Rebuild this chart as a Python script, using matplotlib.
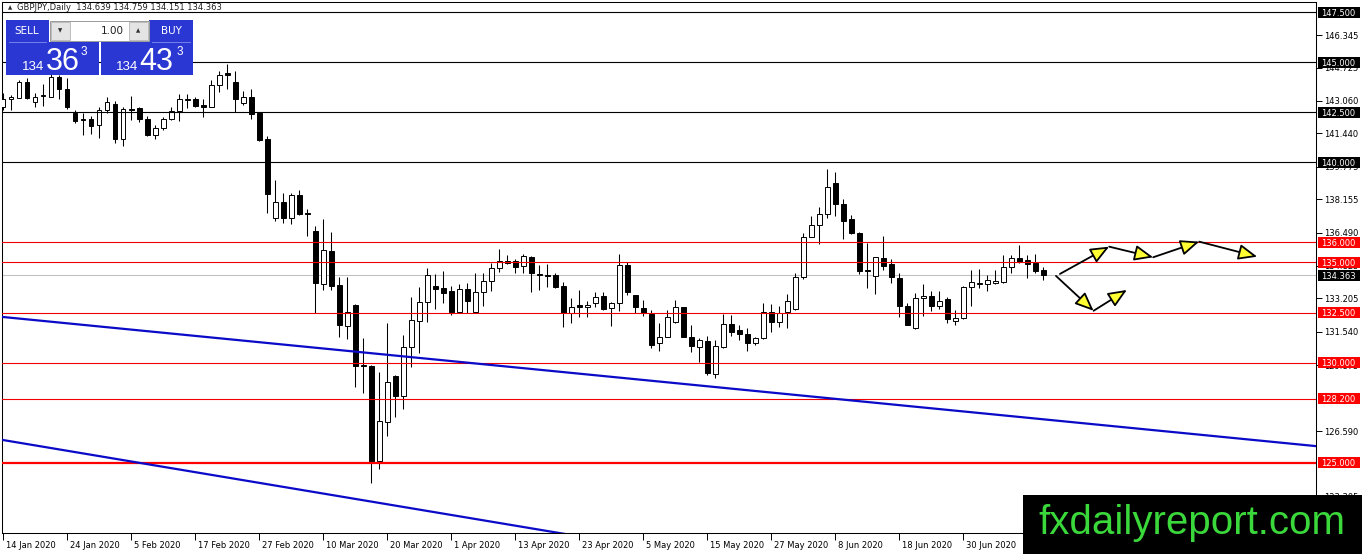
import numpy as np
import matplotlib.pyplot as plt
from matplotlib.patches import Rectangle, FancyArrowPatch
from matplotlib.transforms import blended_transform_factory, ScaledTranslation

# GBPJPY daily candles, 14 Jan 2020 .. 14 Jul 2020
opens = [
    142.75, 143.16, 143.22, 143.99, 142.99, 143.33, 143.27, 144.24, 143.64, 142.46,
    142.15, 142.15, 141.85, 142.61, 142.91, 141.15, 142.68, 142.70, 142.15, 141.36,
    141.70, 142.15, 142.58, 143.12, 143.14, 142.86, 142.75, 143.86, 144.44, 143.99,
    142.97, 143.24, 142.45, 141.16, 137.21, 138.03, 137.21, 138.37, 137.48, 136.57,
    133.91, 135.57, 133.88, 131.85, 132.88, 129.88, 129.85, 125.11, 127.06, 129.36,
    128.35, 130.80, 132.10, 133.01, 133.83, 133.71, 133.58, 132.55, 133.66, 132.52,
    133.51, 134.06, 134.71, 135.09, 135.09, 134.83, 135.29, 134.41, 134.39, 134.38,
    133.83, 132.47, 132.87, 132.77, 132.96, 133.33, 132.71, 132.96, 134.87, 133.38,
    132.71, 132.43, 130.97, 131.30, 132.02, 132.77, 131.27, 130.80, 131.08, 129.44,
    130.80, 131.93, 131.63, 131.43, 130.97, 131.22, 132.55, 132.02, 132.55, 132.67,
    134.29, 136.29, 136.86, 137.41, 138.95, 137.92, 137.16, 136.49, 134.64, 134.34,
    135.21, 134.94, 134.21, 132.83, 131.75, 133.21, 133.33, 132.83, 133.19, 132.10,
    132.22, 133.76, 133.95, 133.91, 133.96, 134.01, 134.79, 135.21, 135.12, 134.96,
    134.639]
highs = [
    143.46, 143.36, 144.11, 144.21, 143.44, 143.91, 144.46, 144.36, 144.21, 142.61,
    142.46, 142.31, 142.78, 143.24, 143.07, 142.78, 143.31, 142.78, 142.31, 141.86,
    142.28, 142.78, 143.41, 143.41, 143.27, 143.16, 144.11, 144.57, 144.91, 144.56,
    143.57, 143.64, 142.46, 141.31, 139.12, 138.45, 138.47, 138.62, 137.67, 136.82,
    137.17, 136.54, 134.28, 134.28, 132.93, 131.23, 129.90, 129.55, 131.98, 129.39,
    131.38, 133.29, 133.79, 134.71, 134.43, 134.59, 133.84, 133.93, 133.96, 134.46,
    134.48, 134.98, 135.66, 135.37, 135.17, 135.42, 135.32, 134.87, 134.92, 134.46,
    134.04, 133.21, 133.63, 133.08, 133.51, 133.51, 133.04, 135.42, 135.04, 133.40,
    133.13, 132.63, 131.97, 132.63, 133.13, 132.80, 131.88, 131.22, 131.35, 131.13,
    132.43, 132.38, 131.88, 131.72, 131.30, 132.96, 132.91, 132.83, 133.41, 134.46,
    136.46, 137.32, 137.76, 139.67, 139.50, 138.15, 137.37, 136.54, 135.96, 135.29,
    136.30, 135.16, 134.46, 133.00, 133.46, 133.93, 133.59, 133.58, 133.26, 132.63,
    133.83, 134.63, 134.66, 134.38, 134.63, 135.37, 135.37, 135.87, 135.37, 135.42,
    134.759]
lows = [
    142.61, 142.61, 143.21, 143.16, 142.78, 142.81, 143.26, 143.16, 142.66, 141.98,
    141.36, 141.41, 141.20, 142.45, 140.98, 140.81, 142.11, 142.03, 141.31, 141.18,
    141.61, 142.11, 142.08, 142.71, 142.78, 142.25, 142.74, 143.52, 143.64, 142.52,
    142.86, 142.15, 141.06, 137.46, 137.09, 136.96, 136.92, 137.37, 136.32, 132.46,
    133.63, 133.63, 131.27, 131.18, 128.80, 128.50, 123.98, 124.68, 126.34, 127.28,
    127.67, 129.77, 130.47, 132.05, 132.67, 133.00, 132.38, 132.47, 132.47, 132.47,
    132.84, 133.59, 134.54, 134.92, 134.46, 134.46, 133.54, 133.63, 133.79, 133.71,
    131.80, 131.97, 132.30, 132.30, 132.80, 132.63, 131.85, 132.59, 133.38, 132.50,
    132.33, 130.72, 130.60, 131.27, 131.97, 131.26, 130.55, 130.05, 129.39, 129.24,
    130.72, 131.33, 131.13, 130.60, 130.88, 131.18, 131.55, 131.77, 131.72, 132.63,
    134.16, 136.26, 135.91, 137.21, 137.32, 136.16, 136.42, 134.41, 133.71, 133.41,
    134.64, 134.00, 132.30, 131.86, 131.68, 132.33, 132.59, 132.67, 131.97, 131.88,
    132.17, 132.83, 133.71, 133.59, 133.95, 134.00, 134.49, 134.99, 134.21, 134.49,
    134.151]
closes = [
    143.14, 143.24, 144.02, 143.22, 143.27, 143.38, 144.24, 143.64, 142.78, 142.06,
    142.10, 141.81, 142.61, 142.99, 141.18, 142.65, 142.61, 142.15, 141.35, 141.70,
    142.15, 142.58, 143.14, 143.16, 142.82, 142.75, 143.86, 144.36, 144.37, 143.14,
    143.24, 142.41, 141.11, 138.42, 138.03, 137.21, 138.37, 137.42, 137.43, 133.96,
    135.60, 133.84, 131.86, 132.52, 129.85, 129.83, 125.11, 127.09, 129.02, 128.35,
    130.80, 132.13, 133.03, 134.38, 133.69, 133.46, 132.52, 133.66, 133.09, 133.51,
    134.06, 134.71, 135.09, 134.99, 134.76, 135.32, 134.46, 134.36, 134.35, 133.79,
    132.47, 132.80, 132.77, 132.88, 133.26, 132.68, 132.96, 134.87, 133.51, 132.77,
    132.47, 130.88, 131.30, 132.27, 132.77, 131.27, 130.85, 131.11, 129.47, 130.83,
    131.93, 131.55, 131.42, 130.97, 131.22, 132.55, 132.02, 132.50, 133.09, 134.29,
    136.29, 136.86, 137.41, 138.75, 137.90, 137.09, 136.49, 134.59, 134.60, 135.26,
    134.84, 134.26, 132.83, 131.88, 133.21, 133.33, 132.83, 133.08, 132.17, 132.25,
    133.79, 134.04, 134.00, 134.13, 134.08, 134.76, 135.21, 135.04, 134.92, 134.59,
    134.363]

# date labels, one every 8 bars
date_labels = ["14 Jan 2020", "24 Jan 2020", "5 Feb 2020", "17 Feb 2020", "27 Feb 2020",
               "10 Mar 2020", "20 Mar 2020", "1 Apr 2020", "13 Apr 2020", "23 Apr 2020",
               "5 May 2020", "15 May 2020", "27 May 2020", "8 Jun 2020", "18 Jun 2020",
               "30 Jun 2020"]

# price scale ticks on the right (the ones not hidden behind level boxes)
axis_ticks = [146.345, 144.725, 143.060, 141.440, 139.775, 138.155, 136.490, 134.825,
              133.205, 131.540, 129.875, 126.590, 123.305]

# horizontal levels drawn on the chart
black_levels = [147.5, 145.0, 142.5, 140.0]
red_levels = [136.0, 135.0, 132.5, 130.0, 128.2]
bold_red_level = 125.0
bid_price = 134.363

# trend lines (bar index, price) anchors
trend_upper = [(0, 132.28), (164.5, 125.82)]
trend_lower = [(0, 126.14), (80, 120.80)]

# forecast arrow paths (bar index, price)
path_up = [(132.1, 134.43), (138.25, 135.79), (143.75, 135.26), (149.5, 136.04), (156.75, 135.29)]
path_down = [(131.6, 134.33), (136.3, 132.59), (140.46, 133.63)]

W, H = 1362, 554
fig = plt.figure(figsize=(W / 100, H / 100), dpi=100)
ax = fig.add_axes([2 / W, 21 / H, 1314 / W, 531 / H])

x = np.arange(len(opens))
o = np.array(opens)
h = np.array(highs)
l = np.array(lows)
c = np.array(closes)
up = c >= o

# candles
ax.vlines(x, l, h, color="black", lw=0.75, zorder=2)
ax.bar(x, np.maximum(np.abs(c - o), 0.015), bottom=np.minimum(o, c), width=0.62,
       color=np.where(up, "white", "black"), edgecolor="black", linewidth=0.7, zorder=3)

# levels
for lv in black_levels:
    ax.axhline(lv, color="black", lw=0.8, zorder=4)
for lv in red_levels:
    ax.axhline(lv, color="#f00000", lw=0.8, zorder=4)
ax.axhline(bold_red_level, color="#ff0000", lw=1.6, zorder=4)
ax.axhline(bid_price, color="#c0c0c0", lw=0.75, zorder=1)

for line in (trend_upper, trend_lower):
    ax.plot([p[0] for p in line], [p[1] for p in line], color="#0a0ac8", lw=1.6, zorder=4)

# forecast arrows
for path in (path_up, path_down):
    for a, b in zip(path[:-1], path[1:]):
        ax.add_patch(FancyArrowPatch(a, b, arrowstyle="-|>,head_length=0.95,head_width=0.4",
                                     mutation_scale=12, fc="#ffff33", ec="black", lw=1.3,
                                     shrinkA=0, shrinkB=0, zorder=8))

ax.set_xlim(-0.125, 164.1)
ax.set_ylim(121.5, 148.0)

for sp in ax.spines.values():
    sp.set_linewidth(0.75)

# right price scale
ax.yaxis.tick_right()
ax.set_yticks(axis_ticks)
ax.set_yticklabels([f"{v:.3f}" for v in axis_ticks])
ax.tick_params(axis="y", length=4, width=0.7, pad=2, labelsize=6)

# dates
ax.set_xticks(np.arange(0, 8 * len(date_labels), 8))
ax.set_xticklabels(date_labels, ha="left")
ax.tick_params(axis="x", length=5, width=0.7, pad=1, labelsize=6)
for lab in ax.get_xticklabels():
    lab.set_transform(lab.get_transform() + ScaledTranslation(2 / 72, 0, fig.dpi_scale_trans))

# boxed price labels
trans = blended_transform_factory(ax.transAxes, ax.transData)
hb = 5.5 / 20.04
boxes = [(v, "black") for v in black_levels] + [(v, "#ff0000") for v in red_levels]
boxes += [(bold_red_level, "#ff0000"), (bid_price, "black")]
for v, col in boxes:
    ax.add_patch(Rectangle((1.0015, v - hb), 42 / 1314, 2 * hb, transform=trans,
                           fc=col, ec="none", clip_on=False, zorder=6))
    ax.text(1.0015 + 3 / 1314, v, f"{v:.3f}", transform=trans, color="white", fontsize=6,
            ha="left", va="center_baseline", clip_on=False, zorder=7)

# header
fig.text(8 / W, 1 - 8 / H, "▲", fontsize=4, va="center", color="#303030")
fig.text(17 / W, 1 - 8 / H, "GBPJPY,Daily  134.639 134.759 134.151 134.363",
         fontsize=6, va="center", color="#202020")

# overlay in pixel coordinates: trade panel and logo
ov = fig.add_axes([0, 0, 1, 1], zorder=10)
ov.set_xlim(0, W)
ov.set_ylim(H, 0)
ov.axis("off")
ov.patch.set_alpha(0)

blue = "#2b37d2"
ov.add_patch(Rectangle((6, 20), 43, 22, fc=blue, ec="none"))
ov.add_patch(Rectangle((6, 42), 93, 33, fc=blue, ec="none"))
ov.add_patch(Rectangle((149, 20), 44, 22, fc=blue, ec="none"))
ov.add_patch(Rectangle((101, 42), 92, 33, fc=blue, ec="none"))
ov.plot([9, 46], [41.5, 41.5], color="#7480ec", lw=0.7)
ov.plot([152, 190], [41.5, 41.5], color="#7480ec", lw=0.7)
ov.add_patch(Rectangle((50, 21), 99, 20, fc="white", ec="#9a9a9a", lw=0.7))
ov.add_patch(Rectangle((51, 22), 19, 18, fc="#e4e4e4", ec="#b4b4b4", lw=0.6))
ov.add_patch(Rectangle((129, 22), 19, 18, fc="#e4e4e4", ec="#b4b4b4", lw=0.6))
ov.text(60.5, 31, "▼", fontsize=4, ha="center", va="center", color="#303030")
ov.text(138.5, 31, "▲", fontsize=4, ha="center", va="center", color="#303030")
ov.text(124, 31, "1.00", fontsize=7.5, ha="right", va="center", color="#202020")
ov.text(27, 31, "SELL", fontsize=7.5, ha="center", va="center", color="white")
ov.text(171, 31, "BUY", fontsize=7.5, ha="center", va="center", color="white")

big = dict(color="white", family="Liberation Sans", va="baseline")
ov.text(22, 70, "134", fontsize=9.5, ha="left", **big)
ov.text(46, 70.5, "36", fontsize=22, ha="left", **big)
ov.text(81, 55, "3", fontsize=8.5, ha="left", **big)
ov.text(116, 70, "134", fontsize=9.5, ha="left", **big)
ov.text(139, 70.5, "43", fontsize=22, ha="left", **big)
ov.text(177, 55, "3", fontsize=8.5, ha="left", **big)

ov.add_patch(Rectangle((1023, 495), W - 1023, H - 495, fc="black", ec="none"))
ov.text(1192, 523, "fxdailyreport.com", color="#3ad83a", fontsize=29,
        family="Liberation Sans", ha="center", va="center")

fig.savefig("out.png", dpi=100, facecolor="white")
